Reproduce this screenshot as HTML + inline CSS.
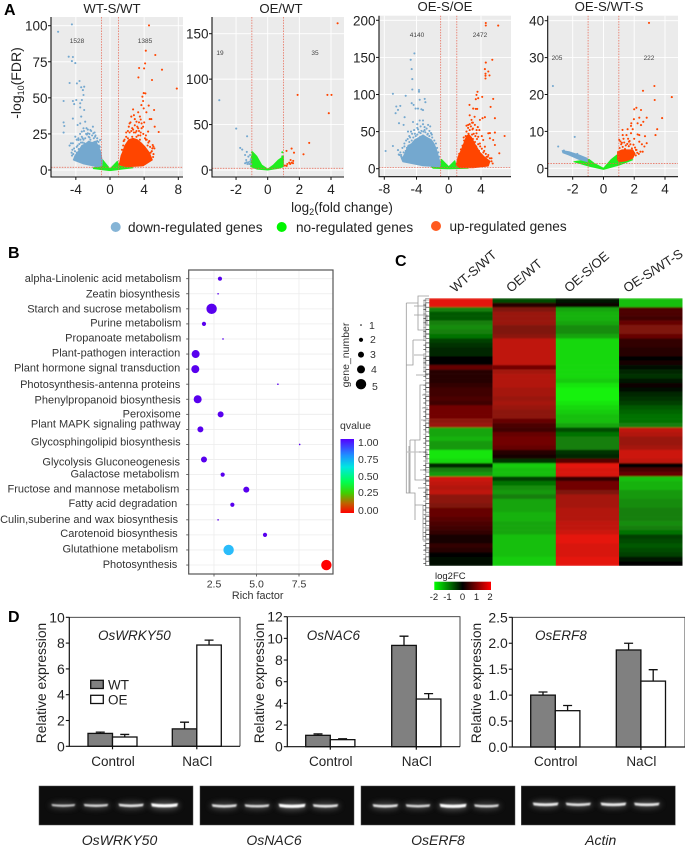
<!DOCTYPE html>
<html lang="en">
<head>
<meta charset="utf-8">
<title>Transcriptome and expression analysis figure</title>
<style>
html,body{margin:0;padding:0;background:#fff;}
#figure{display:block;font-family:"Liberation Sans",sans-serif;}
</style>
</head>
<body>
<svg id="figure" xmlns="http://www.w3.org/2000/svg" width="685" height="847" viewBox="0 0 685 847">
<defs>
<filter id="band-blur" x="-30%" y="-200%" width="160%" height="500%"><feGaussianBlur stdDeviation="0.9"></feGaussianBlur></filter>
<filter id="glow-blur" x="-30%" y="-300%" width="160%" height="700%"><feGaussianBlur stdDeviation="2.6"></feGaussianBlur></filter>
<filter id="heat-blur" x="0" y="0" width="100%" height="100%"><feGaussianBlur stdDeviation="0 0.9"></feGaussianBlur></filter>
<linearGradient id="qvalue-gradient" x1="0" y1="1" x2="0" y2="0">
<stop offset="0" stop-color="#ff0000"></stop><stop offset=".13" stop-color="#c06000"></stop><stop offset=".27" stop-color="#40d000"></stop><stop offset=".42" stop-color="#00ff50"></stop><stop offset=".62" stop-color="#00e8e0"></stop><stop offset=".78" stop-color="#1e90ff"></stop><stop offset="1" stop-color="#5500ff"></stop>
</linearGradient>
<linearGradient id="log2fc-gradient" x1="0" y1="0" x2="1" y2="0">
<stop offset="0" stop-color="#00ff00"></stop><stop offset=".5" stop-color="#000000"></stop><stop offset="1" stop-color="#ff0000"></stop>
</linearGradient>
</defs>
<rect width="685" height="847" fill="#fff"></rect>

<g font-weight="bold" font-size="16" fill="#000">
<text x="4" y="15">A</text>
<text x="8" y="258">B</text>
<text x="395" y="266">C</text>
<text x="8" y="622">D</text>
</g>

<g font-size="13.2" text-anchor="middle" fill="#222">
<text x="112" y="13">WT-S/WT</text>
<text x="281" y="13">OE/WT</text>
<text x="445" y="11">OE-S/OE</text>
<text x="609" y="11">OE-S/WT-S</text>
</g>
<g id="volcano-layer"></g>
<g font-size="6.5" text-anchor="middle" fill="#444">
<text x="77" y="43">1528</text>
<text x="145" y="43">1385</text>
<text x="220" y="55">19</text>
<text x="315" y="55">35</text>
<text x="417" y="37">4140</text>
<text x="480" y="37">2472</text>
<text x="557" y="60">205</text>
<text x="649" y="60">222</text>
</g>
<text transform="translate(21,83) rotate(-90)" font-size="14" text-anchor="middle" fill="#222">-log<tspan font-size="9" dy="3">10</tspan><tspan dy="-3">(FDR)</tspan></text>
<text x="342" y="212" font-size="13.5" text-anchor="middle" fill="#222">log<tspan font-size="9" dy="3">2</tspan><tspan dy="-3">(fold change)</tspan></text>
<g font-size="13.6" fill="#222">
<circle cx="115.7" cy="227" r="5" fill="#85b4d6"></circle>
<text x="128" y="232">down-regulated genes</text>
<circle cx="281.7" cy="227" r="5" fill="#00f500"></circle>
<text x="296" y="232">no-regulated genes</text>
<circle cx="436" cy="226" r="5" fill="#ff5a1f"></circle>
<text x="449.5" y="231">up-regulated genes</text>
</g>

<g id="bubble-layer"></g>
<g font-size="11" text-anchor="end" fill="#333">
<text x="181.3" y="282">alpha-Linolenic acid metabolism</text>
<text x="180" y="297.3">Zeatin biosynthesis</text>
<text x="181.3" y="312.3">Starch and sucrose metabolism</text>
<text x="181.3" y="326.7">Purine metabolism</text>
<text x="181.3" y="341.3">Propanoate metabolism</text>
<text x="180.3" y="356.3">Plant-pathogen interaction</text>
<text x="180.3" y="371.7">Plant hormone signal transduction</text>
<text x="180.3" y="388">Photosynthesis-antenna proteins</text>
<text x="180.7" y="403.3">Phenylpropanoid biosynthesis</text>
<text x="180.7" y="417.7">Peroxisome</text>
<text x="180.7" y="427.7">Plant MAPK signaling pathway</text>
<text x="180.7" y="445.7">Glycosphingolipid biosynthesis</text>
<text x="180" y="465.3">Glycolysis Gluconeogenesis</text>
<text x="179.3" y="477.7">Galactose metabolism</text>
<text x="179.3" y="492.3">Fructose and mannose metabolism</text>
<text x="177.3" y="507">Fatty acid degradation</text>
<text x="178" y="523">Culin,suberine and wax biosynthesis</text>
<text x="177.7" y="537">Carotenoid biosynthesis</text>
<text x="178" y="552.3">Glutathione metabolism</text>
<text x="177.3" y="568">Photosynthesis</text>
</g>
<text x="257.7" y="599" font-size="10.8" text-anchor="middle" fill="#333">Rich factor</text>
<g fill="#333" font-size="10.5">
<text transform="translate(349,355) rotate(-90)" text-anchor="middle">gene_number</text>
<text x="369" y="329">1</text>
<text x="370" y="343">2</text>
<text x="370" y="358">3</text>
<text x="371" y="373">4</text>
<text x="372" y="390">5</text>
</g>
<g fill="#333" font-size="10.5">
<text x="340" y="429">qvalue</text>
<rect x="340.5" y="439" width="13.5" height="74" fill="url(#qvalue-gradient)"></rect>
<text x="358" y="446">1.00</text>
<text x="358" y="463">0.75</text>
<text x="358" y="480">0.50</text>
<text x="358" y="496">0.25</text>
<text x="358" y="514">0.00</text>
</g>

<g font-size="13" fill="#222">
<text transform="translate(455,293) rotate(-41)">WT-S/WT</text>
<text transform="translate(511,293) rotate(-41)">OE/WT</text>
<text transform="translate(569,293) rotate(-41)">OE-S/OE</text>
<text transform="translate(627,293) rotate(-33)">OE-S/WT-S</text>
</g>
<g fill="none" stroke="#9a9a9a" stroke-width=".8">
<path d="M406.3 303V365H413V340M406.3 365V493H410V440M409 446V493H415V520M413 340H424V300H429M413 340V365M410 440H420V385H425M420 440H415V480H429M415 505H423V540H429M406.3 303H418V296H429M418 303V330H425"></path>
<path stroke="#c4c4c4" stroke-width="1.2" d="M407 452H421"></path>
<path d="M414 306H426M414 315H427V325M414 355H424V372M416 375H428M422 395H429M422 408H428M421 420H429V434M419 452H427V462M420 470H429M418 488H427V500M424 515H429M425 528H429M424 550H429V561"></path>
</g>
<g id="heatmap-layer"></g>
<g fill="#222" font-size="9.5">
<text x="435" y="579">log2FC</text>
<rect x="434.3" y="581.7" width="56.7" height="8.3" fill="url(#log2fc-gradient)"></rect>
<text x="434" y="600" text-anchor="middle">-2</text>
<text x="447.5" y="600" text-anchor="middle">-1</text>
<text x="462.5" y="600" text-anchor="middle">0</text>
<text x="476.5" y="600" text-anchor="middle">1</text>
<text x="490" y="600" text-anchor="middle">2</text>
</g>

<g id="bars-layer"></g>
<g font-size="13.5" fill="#222">
<rect x="90.7" y="680.3" width="12.6" height="8.2" fill="#808080" stroke="#111" stroke-width="1.3"></rect>
<text x="108" y="689.5">WT</text>
<rect x="90.7" y="695.3" width="12.6" height="8.2" fill="#fff" stroke="#111" stroke-width="1.3"></rect>
<text x="108" y="704.5">OE</text>
</g>
<g id="gels-layer"></g>
<g font-size="14" font-style="italic" text-anchor="middle" fill="#222">
<text x="119.5" y="845">OsWRKY50</text>
<text x="274" y="845">OsNAC6</text>
<text x="438" y="845">OsERF8</text>
<text x="600.7" y="845">Actin</text>
</g>
</svg>

<script>
// ---------- Volcano data (log2FC, -log10 FDR) ----------
const wtsWtXTicks = [-4, 0, 4, 8];
const wtsWtYTicks = [0, 25, 50, 75, 100];
const wtsWtDown = [[-6.08,95.8],[-4.46,100.9],[-4.84,78.5],[-4.34,78.3],[-4.46,75.5],[-4.07,74.1],[-4.73,60.3],[-3.57,61.7],[-3.88,60],[-3.02,57.7],[-5.43,47.8],[-4.34,47.8],[-3.95,48.5],[-4.19,45.7],[-3.37,57.3],[-3.18,55.4],[-3.1,52],[-3.29,48.5],[-3.49,46.2],[-3.49,43.4],[-3.02,41.6],[-3.37,37],[-4.34,35.6],[-5.43,33],[-5.35,30.5],[-5.43,25.9],[-3.8,31.2],[-3.49,32.3],[-2.91,33.5],[-3.1,28.9],[-2.3,27.7],[-2,30],[-2.6,25.4],[-3.3,26.6],[-4.07,23.1],[-4.57,18.5],[-4.73,16.9],[-4.34,18.5],[-3.7,20.8],[-1.75,23.1],[-1.16,20.8],[-1.94,25.4],[-4.4,14],[-3.8,17],[-3.2,22],[-2.4,22.5],[-2.7,24.5],[-1.5,22]];
const wtsWtDownMid = [[-4.3,11],[-4.1,13],[-3.9,12],[-4.2,15],[-3.6,18],[-3.9,16],[-3.4,19],[-3.7,22],[-3.1,21],[-3.3,23],[-2.9,22],[-2.8,25],[-2.5,23],[-2.3,21],[-2.1,24],[-1.9,22],[-1.7,24],[-1.5,20],[-1.3,17],[-1.2,16],[-1.1,12],[-2.6,28],[-3.05,27],[-2.75,29],[-1.8,26],[-2.2,27],[-3.5,25],[-3.9,21],[-4.5,12],[-4.45,10],[-3.2,19],[-3,18.5],[-3.45,21],[-2.4,25],[-1.6,19.5],[-3.65,14.5],[-4,9.5],[-1.35,19.5]];
const wtsWtUp = [[4.57,100.2],[4.19,82.7],[5.31,79.7],[4.11,73.9],[3.41,70.7],[3.99,70.4],[6.09,69.5],[4.92,62.4],[3.33,64.2],[7.83,56.4],[3.95,53.3],[4.15,53.1],[3.8,50.8],[3.88,47.8],[3.68,45],[4.53,44.6],[2.71,42],[3.95,42.7],[5.16,41.6],[3.3,40],[4.26,40],[4.65,35.3],[4.84,35.3],[5.23,30],[5.7,26.3],[5,17.3],[5.08,16.2],[4.96,15],[2.5,37],[2.9,35.3],[3.5,37],[3.1,33.5],[3.7,32.3],[4.46,26.6],[3.88,30],[3.3,28.9],[2.3,32.3],[4.2,24],[3.6,26],[4.6,20],[4.4,17],[3.1,27],[2.6,29]];
const wtsWtUpMid = [[1.4,14],[1.55,17],[1.7,21],[1.9,23],[2.1,22],[2.3,26],[2.5,27],[2.2,30],[2.7,28],[2.9,31],[2.4,33],[3,26],[3.2,30],[3.4,27],[3.55,24],[3.7,29],[3.9,25],[4.1,22],[4.3,21],[4.5,19],[4.7,16],[4.9,13],[5.1,11],[5.05,9],[4.6,9],[4.2,21],[3.4,33],[2.8,38],[3.6,35],[4,33],[2.1,27],[1.9,26],[3.1,23],[4.75,12],[5.2,15],[2.6,23],[3.3,24],[1.6,20],[2.8,26],[3.5,21]];
const wtsWtDownCloud = [[-4.3,7],[-4.1,10],[-3.7,13],[-3.3,17],[-2.9,18],[-2.5,20],[-2.1,19],[-1.7,20],[-1.4,17],[-1.1,13],[-0.9,6],[-0.95,3],[-1.5,2.3],[-3.1,4.2],[-4.1,6.5]];
const wtsWtUpCloud = [[1.08,3.5],[1.3,10],[1.45,12],[1.75,17],[2.2,21],[2.7,22],[3.2,21],[3.7,18.5],[4.1,16],[4.6,12],[4.95,7],[3.9,3],[2,2.3]];
const wtsWtNoCloud = [[-1.95,1.5],[-1.16,2.8],[-0.85,7],[0,0.7],[0.85,6],[1.08,2.8],[2.7,1.6],[0,-0.4],[-1.95,1]];

const oeWtXTicks = [-2, 0, 2, 4];
const oeWtYTicks = [0, 50, 100, 150];
const oeWtDown = [[-3.06,76.8],[-1.99,45.6],[-1.3,37.1],[-1.74,24.3],[-1.61,22.4],[-1.32,19.9],[-1.11,16.5],[-1.43,16.5],[-1.22,14.7],[-1.36,11],[-1.22,8.5],[-1.43,7.4],[-1.28,6.6],[-1.11,9.2],[-1.07,11.8],[-1.16,6.6],[-1.34,8.5],[-1.05,6.5]];
const oeWtUp = [[4.42,161.4],[1.89,82.7],[3.77,82.7],[4.03,82.7],[3.86,62.5],[2.62,29.8],[2.26,17.3],[1.51,23.5],[1.19,21],[1.66,19],[1.45,11],[1.61,10],[1.51,8],[1.36,8],[1.24,6.6],[1.09,4.8],[1.42,6.6],[1.6,7.5],[1.2,4.5]];
const oeWtNoPoints = [[0.92,19.5],[0.92,15],[-0.99,19.5],[-1,14],[0.97,11]];
const oeWtNoCloud = [[-1.07,11],[-0.96,20],[-0.69,15],[-0.38,5.5],[0,1],[0.36,5.5],[0.67,11],[0.99,15],[0.99,3.7],[0.67,1.8],[0,0],[-0.69,1],[-1.07,3.7]];

const oesOeXTicks = [-8, -4, 0, 4];
const oesOeYTicks = [0, 50, 100, 150, 200];
const oesOeDown = [[-4.27,155.4],[-4.73,146.8],[-4.6,134.2],[-4.52,120.7],[-4.52,106.8],[-3.69,106],[-3.69,103.6],[-6.93,100.9],[-5.35,98.2],[-2.99,94.1],[-3.61,92.8],[-2.9,89.6],[-4.6,88.3],[-4.36,86],[-6.51,83.8],[-6.02,84.7],[-6.3,79.3],[-6.6,74.8],[-4.11,81],[-3.82,81],[-3.4,80],[-3.2,79],[-6.93,30.6],[-7.84,23.9],[-6.18,61.3],[-5.6,59],[-5.48,69.4],[-6.3,25],[-5.9,18.5],[-6.1,18.5],[-5.06,50],[-4.44,63],[-3.61,65],[-3.2,65],[-2.57,59],[-2.3,57],[-4.69,50],[-3.9,55],[-3,52],[-4.2,47],[-3.5,48],[-5.5,30],[-5.3,38],[-2.6,47],[-4.8,42],[-2.2,48]];
const oesOeDownMid = [[-5.7,13],[-5.5,18],[-5.6,22],[-5.2,28],[-5,31],[-5.35,24],[-4.9,36],[-4.6,38],[-4.75,30],[-4.4,42],[-4.1,44],[-4.3,36],[-3.9,46],[-3.7,49],[-3.4,51],[-3.15,50],[-2.9,49],[-2.65,46],[-2.4,44],[-2.05,42],[-1.8,38],[-1.6,34],[-3.8,53],[-3.5,57],[-3,56],[-2.75,54],[-4.3,52],[-4.55,47],[-4.9,44],[-5.1,40],[-5.5,34],[-5.75,28],[-6,22],[-3.2,60],[-3.9,60],[-2.4,51],[-2.1,46],[-1.45,28],[-1.3,22],[-1.2,16],[-6.2,19],[-5.9,16],[-3.55,43],[-4.85,26]];
const oesOeUp = [[4.6,196.4],[4.6,193],[6.14,192.8],[5.4,146.8],[4.6,143],[4.48,134.2],[4.9,131],[4.56,128],[5.06,125.7],[4.56,125.2],[4.56,121.6],[3.57,103.6],[3.44,99.5],[3.65,95],[4.15,96.8],[3.36,93.7],[5.52,94.1],[2.57,86],[5.19,83.3],[3.03,81],[3.36,80.6],[3.53,80.6],[5.73,68],[4.48,69.4],[4.19,68],[3.86,65.8],[2.82,65.8],[2.41,59],[3.24,59],[4.9,47.7],[5.73,48.6],[5.1,48],[6.93,44.1],[5.1,41],[5.52,38.7],[5.73,32],[6.27,20.7],[4.9,18.5],[4.69,16],[4.48,29.7],[3.86,34],[4.27,38.7],[3.65,43],[3.44,47.7],[3,54],[2.9,62],[3.6,56],[3.8,52],[4.1,44],[4.4,24],[5.3,14],[3.2,70],[2.6,72]];
const oesOeUpMid = [[1.3,20],[1.5,26],[1.7,31],[1.9,38],[2.1,44],[2.2,50],[2.4,55],[2.6,52],[2.75,57],[2.95,53],[3.1,47],[3.3,44],[3.5,40],[3.25,36],[3.65,33],[3.9,30],[4.1,27],[4.3,22],[4.6,20],[4.85,16],[5.1,14],[5.3,10],[5.45,7],[3,40],[2.9,46],[2.6,60],[2.2,58],[2.8,36],[3.4,30],[3.75,24],[4.05,19],[4.5,14],[3,62],[3.45,52],[2.45,47],[1.85,42]];
const oesOeDownCloud = [[-5.89,14],[-5.6,17],[-5.27,25],[-5.06,31],[-4.6,34],[-4.23,39],[-3.7,42],[-3.2,45.5],[-2.7,42],[-2.16,39],[-1.8,33],[-1.54,26],[-1.04,7],[-1.12,2.7],[-3.2,4],[-5.7,9.5]];
const oesOeUpCloud = [[0.91,5],[1.16,16],[1.5,24],[1.87,34],[2.2,44],[2.5,46],[2.82,42],[3.3,32],[3.86,22],[4.4,16],[5.1,10],[4.9,3.6],[3.03,1.4],[1.37,1.4]];
const oesOeNoCloud = [[-2.16,2.7],[-1.12,5],[-0.91,12.6],[0,2.7],[0.75,10.8],[0.95,2.7],[2.4,0.5],[0,0],[-1.95,0.5]];

const oesWtsXTicks = [-2, 0, 2, 4];
const oesWtsYTicks = [0, 10, 20, 30, 40];
const oesWtsDown = [[-3.29,22.3],[-1.87,8.5],[-2.94,5.9],[-2.57,4.8],[-2.24,4.3],[-1.8,3.6],[-1.48,3.2],[-1.55,2.9],[-1.27,2.4],[-1.7,3.9]];
const oesWtsUp = [[2.96,39.4],[3.31,22.3],[2.57,21],[4.44,19.3],[3.33,18.5],[2.14,16.4],[2,16],[2.44,15.8],[3.81,13.6],[2.81,13.7],[2.33,13.7],[1.98,13.3],[2.59,12.6],[1.81,12.2],[2.22,12.2],[2.44,11.7],[1.79,11.5],[3.49,10.6],[1.24,10.4],[1.57,10.6],[1.9,10.6],[3.38,9],[1.5,9],[1.79,9.5],[2.22,9.2],[2.33,9],[2.7,8.7],[2.81,6.8],[2.66,5.9],[2.55,4.5],[2.11,5],[2.33,7.2],[1.66,7.2],[1.02,7.7],[1.3,8],[1.2,6.9],[2,8],[2.5,6.5]];
const oesWtsUpMid = [[1.05,5.5],[1.15,6.5],[1.25,5.8],[1.35,7],[1.45,6.2],[1.55,6.6],[1.65,6],[1.75,6.5],[1.85,5.4],[1.95,6.4],[2.05,5.6],[2.15,5],[2.2,4.2],[2.3,3.9],[2.1,3.5],[2.4,4.5],[1.7,7.4],[1.4,5.2],[1.1,7.3],[1.6,8],[1.25,9]];
const oesWtsDownCloud = [[-2.68,4.8],[-2.24,4.5],[-1.59,3.6],[-1.05,2.7],[-1.05,1.8],[-1.59,2.4],[-2.24,3.6],[-2.64,4.2]];
const oesWtsUpCloud = [[0.92,4.5],[1.2,5],[1.9,5],[2.05,4],[1.9,2.7],[1.46,2],[1.02,1.8],[0.92,2.3]];
const oesWtsNoCloud = [[-1.92,1.8],[-0.94,2.4],[-0.61,1.35],[0,0],[0.48,2.3],[0.87,3.6],[1.24,2.7],[1.9,2.3],[1.02,0.9],[0,-0.3],[-0.94,0.6]];

// ---------- Bubble chart data ----------
const bubbleXTicks = [2.5, 5.0, 7.5];
const bubbleRichFactor = [2.85,2.74,2.36,1.91,3.03,1.42,1.40,6.26,1.54,2.89,1.70,7.54,1.91,3.01,4.40,3.58,2.74,5.50,3.36,9.11];
const bubbleGeneNumber = [2,1,5,2,1,4,4,1,4,3,3,1,3,2,3,2,1,2,5,5];
const bubbleQvalue = [1,1,1,1,1,1,1,1,1,1,1,1,1,1,1,1,1,1,0.73,0.0];
const sizeLegendValues = [1,2,3,4,5];

// ---------- Heatmap data: log2FC per gene row ----------
const heatWtsWt = [1.8,1.8,-1,-.7,-.7,-1,-1.1,-1,-.9,-.5,-.4,-.3,-.3,0,.05,.8,.3,.3,.3,.4,.5,.5,.6,.5,.9,.9,.9,1.1,1.2,-1.3,-1.3,-1.4,-1.2,-1.2,-1.8,-1.8,-1.7,-.3,-1,-1.2,1.6,1.5,1.4,1.5,1.1,1.1,1,.8,.8,.7,.6,.5,.4,.2,.2,.4,.3,.05,-.1,-.1];
const heatOeWt = [-.6,.3,1,1.2,1.2,1.2,1,1,1.1,1.5,1.5,1.5,1.5,1.5,1.5,.9,1.3,1.4,1.4,1.4,1.3,1.3,1.2,1.3,1.2,1.1,1.1,.8,.6,.5,.8,.9,.9,.8,.3,.2,-.4,-1.6,-1.5,-1.5,-.5,-.9,-1.1,-1.2,-1,-1.3,-1.3,-1.3,-1.4,-1.4,-1.3,-1.3,-1.3,-1.5,-1.5,-1.5,-1.5,-1.5,-1.6,-1.6];
const heatOesOe = [-.2,.1,-1.3,-1.4,-1.4,-1.3,-1.1,-1.1,-1.3,-1.7,-1.7,-1.7,-1.7,-1.7,-1.7,-1.7,-1.7,-1.7,-1.6,-1.8,-1.9,-1.9,-1.9,-1.8,-1.7,-1.6,-1.5,-1.5,-1.3,-.6,-.9,-1,-1,-1,-.4,-.3,.7,1.8,1.7,1.7,.4,.9,.9,1,1.3,1.3,1.3,1.4,1.4,1.4,1.5,1.5,1.6,1.8,1.8,1.7,1.7,1.7,1.8,1.8];
const heatOesWts = [-1.5,-1.5,.6,.6,.5,.8,1,1,.8,.4,.4,.3,.3,.05,.2,-.1,-.3,-.4,-.2,.1,-.1,-.3,-.4,-.5,-.7,-.8,-.9,-.9,-1,1.5,1.4,1.2,1.2,1.3,1.6,1.6,1.5,-.05,.6,.8,-1.5,-1.4,-1.4,-1.2,-1.2,-1.1,-1.1,-1,-1,-1,-1.1,-1,-.9,-.5,-.6,-.7,-.6,-.5,-.2,.02];

// ---------- Bar chart data ----------
const wrkyTicks = [0,2,4,6,8,10];
const wrkyTickLabels = ["0","2","4","6","8","10"];
const wrkyWt = [1.0,1.35];
const wrkyOe = [0.72,7.85];
const wrkyWtErr = [0.1,0.52];
const wrkyOeErr = [0.2,0.38];
const nacTicks = [0,2,4,6,8,10,12];
const nacTickLabels = ["0","2","4","6","8","10","12"];
const nacWt = [1.05,9.35];
const nacOe = [0.65,4.4];
const nacWtErr = [0.13,0.85];
const nacOeErr = [0.08,0.5];
const erfTicks = [0,0.5,1,1.5,2,2.5];
const erfTickLabels = ["0.0","0.5","1.0","1.5","2.0","2.5"];
const erfWt = [1.0,1.87];
const erfOe = [0.7,1.27];
const erfWtErr = [0.06,0.13];
const erfOeErr = [0.1,0.22];
const barCategories = ["Control","NaCl"];

// ---------- Gel band intensities ----------
const gelWrky = [0.5,0.6,0.72,1.0];
const gelNac = [0.72,0.65,1.0,0.75];
const gelErf = [0.75,0.62,1.0,0.65];
const gelActin = [0.8,0.72,0.8,0.76];

const NS = 'http://www.w3.org/2000/svg';
function mk(parent, tag, attrs, text) {
  const node = document.createElementNS(NS, tag);
  for (const k in attrs) node.setAttribute(k, attrs[k]);
  if (text !== undefined) node.textContent = text;
  parent.appendChild(node);
  return node;
}
function linear(v0, p0, v1, p1) {
  const k = (p1 - p0) / (v1 - v0);
  return v => p0 + (v - v0) * k;
}

// ---------- Volcano panels ----------
function drawVolcano(cfg) {
  const layer = document.getElementById('volcano-layer');
  const x = linear(cfg.xv[0], cfg.xp[0], cfg.xv[1], cfg.xp[1]);
  const y = linear(cfg.yv[0], cfg.yp[0], cfg.yv[1], cfg.yp[1]);
  const g = mk(layer, 'g', {});
  
  
  const bg = mk(g, 'rect', {x: cfg.left, y: cfg.top, width: cfg.right - cfg.left, height: cfg.bottom - cfg.top, fill: '#ebebeb'});
  
  
  cfg.xTicks.forEach(t => {
    const gl = mk(g, 'line', {x1: x(t), x2: x(t), y1: cfg.top, y2: cfg.bottom, stroke: '#fff', 'stroke-width': .9});
    
    
  });
  cfg.yTicks.forEach(t => {
    const gl = mk(g, 'line', {x1: cfg.left, x2: cfg.right, y1: y(t), y2: y(t), stroke: '#fff', 'stroke-width': .9});
    
    
  });
  function cloud(points, fill, name) {
    const poly = mk(g, 'polygon', {points: points.map(p => x(p[0]).toFixed(1) + ',' + y(p[1]).toFixed(1)).join(' '), fill: fill, stroke: fill, 'stroke-width': 1, 'stroke-linejoin': 'round'});
    
    
  }
  function dots(points, fill, name) {
    points.forEach(p => {
      const c = mk(g, 'circle', {cx: x(p[0]).toFixed(1), cy: y(p[1]).toFixed(1), r: 1.05, fill: fill});
      
      
    });
  }
  cloud(cfg.noCloud, '#1fee1f', 'no-regulated-cloud');
  cloud(cfg.downCloud, '#74a8cf', 'down-regulated-cloud');
  cloud(cfg.upCloud, '#ff4500', 'up-regulated-cloud');
  dots(cfg.noPoints || [], '#1fee1f', 'no-regulated-point');
  dots(cfg.down, '#74a8cf', 'down-regulated-point');
  dots(cfg.up, '#ff4500', 'up-regulated-point');
  [-1, 1].forEach(t => {
    const v = mk(g, 'line', {x1: x(t), x2: x(t), y1: cfg.top, y2: cfg.bottom, stroke: '#e8604c', 'stroke-width': .7, 'stroke-dasharray': '1.5 1.2'});
    
    
  });
  const h = mk(g, 'line', {x1: cfg.left, x2: cfg.right, y1: y(cfg.fdr), y2: y(cfg.fdr), stroke: '#e8604c', 'stroke-width': .7, 'stroke-dasharray': '1.5 1.2'});
  
  
  const ax = mk(g, 'path', {d: `M${cfg.left} ${cfg.top}V${cfg.bottom}H${cfg.right}`, fill: 'none', stroke: '#111', 'stroke-width': 1.1});
  
  
  cfg.xTicks.forEach(t => {
    const m = mk(g, 'line', {x1: x(t), x2: x(t), y1: cfg.bottom, y2: cfg.bottom + 3, stroke: '#111', 'stroke-width': 1});
    
    
    const l = mk(g, 'text', {x: x(t), y: cfg.bottom + 17, 'font-size': 13.5, 'text-anchor': 'middle', fill: '#222'}, String(t));
    
    
  });
  cfg.yTicks.forEach(t => {
    const m = mk(g, 'line', {x1: cfg.left - 3, x2: cfg.left, y1: y(t), y2: y(t), stroke: '#111', 'stroke-width': 1});
    
    
    const l = mk(g, 'text', {x: cfg.left - 3.5, y: y(t) + 5, 'font-size': 13.5, 'text-anchor': 'end', fill: '#222'}, String(t));
    
    
  });
}
drawVolcano({id:'wts-wt',left:51,right:183,top:17,bottom:177,xv:[0,8],xp:[110,178.3],yv:[0,100],yp:[170,25.7],fdr:1.9,xTicks:wtsWtXTicks,yTicks:wtsWtYTicks,down:wtsWtDown.concat(wtsWtDownMid),up:wtsWtUp.concat(wtsWtUpMid),downCloud:wtsWtDownCloud,upCloud:wtsWtUpCloud,noCloud:wtsWtNoCloud});
drawVolcano({id:'oe-wt',left:212,right:344,top:17,bottom:177,xv:[0,4],xp:[267.7,331],yv:[0,150],yp:[170,33.7],fdr:1.9,xTicks:oeWtXTicks,yTicks:oeWtYTicks,down:oeWtDown,up:oeWtUp,noPoints:oeWtNoPoints,downCloud:[],upCloud:[],noCloud:oeWtNoCloud});
drawVolcano({id:'oes-oe',left:379,right:511,top:15.7,bottom:176.7,xv:[-8,4],xp:[384.3,481],yv:[0,200],yp:[168.7,20.3],fdr:1.9,xTicks:oesOeXTicks,yTicks:oesOeYTicks,down:oesOeDown.concat(oesOeDownMid),up:oesOeUp.concat(oesOeUpMid),downCloud:oesOeDownCloud,upCloud:oesOeUpCloud,noCloud:oesOeNoCloud});
drawVolcano({id:'oes-wts',left:547.7,right:678,top:15.7,bottom:176.7,xv:[-2,4],xp:[572.7,665],yv:[0,40],yp:[168.3,20.7],fdr:1.3,xTicks:oesWtsXTicks,yTicks:oesWtsYTicks,down:oesWtsDown,up:oesWtsUp.concat(oesWtsUpMid),downCloud:oesWtsDownCloud,upCloud:oesWtsUpCloud,noCloud:oesWtsNoCloud});

// ---------- Bubble chart ----------
(function () {
  const layer = document.getElementById('bubble-layer');
  const left = 188.7, right = 333, top = 270, bottom = 574;
  const x = linear(2.5, 214, 7.5, 299);
  const y = i => 278.7 + i * 15.07;
  const radius = n => [0.8, 2.1, 3.0, 4.0, 5.2][n - 1];
  const stops = [[0,[255,0,0]],[.13,[192,96,0]],[.27,[64,208,0]],[.42,[0,255,80]],[.62,[0,232,224]],[.75,[50,180,255]],[.85,[40,100,255]],[1,[88,0,238]]];
  function qColor(q) {
    for (let i = 1; i < stops.length; i++) {
      if (q <= stops[i][0]) {
        const a = stops[i-1], b = stops[i], t = (q - a[0]) / (b[0] - a[0]);
        return 'rgb(' + a[1].map((c, j) => Math.round(c + (b[1][j] - c) * t)).join(',') + ')';
      }
    }
    return 'rgb(88,0,238)';
  }
  const bg = mk(layer, 'rect', {x: left, y: top, width: right - left, height: bottom - top, fill: '#fff'});
  
  
  bubbleXTicks.forEach(t => {
    const gl = mk(layer, 'line', {x1: x(t), x2: x(t), y1: top, y2: bottom, stroke: '#ececec', 'stroke-width': .8});
    
    
    const m = mk(layer, 'line', {x1: x(t), x2: x(t), y1: bottom, y2: bottom + 2.5, stroke: '#444', 'stroke-width': .8});
    
    
    const l = mk(layer, 'text', {x: x(t), y: 587.7, 'font-size': 10.5, 'text-anchor': 'middle', fill: '#333'}, t.toFixed(1));
    
    
  });
  bubbleRichFactor.forEach((v, i) => {
    const gl = mk(layer, 'line', {x1: left, x2: right, y1: y(i), y2: y(i), stroke: '#ececec', 'stroke-width': .8});
    
    
    const m = mk(layer, 'line', {x1: left - 2.5, x2: left, y1: y(i), y2: y(i), stroke: '#444', 'stroke-width': .8});
    
    
  });
  const frame = mk(layer, 'rect', {x: left, y: top, width: right - left, height: bottom - top, fill: 'none', stroke: '#555', 'stroke-width': 1.2});
  
  
  bubbleRichFactor.forEach((v, i) => {
    const c = mk(layer, 'circle', {cx: x(v), cy: y(i), r: radius(bubbleGeneNumber[i]), fill: qColor(bubbleQvalue[i])});
    
    
  });
  sizeLegendValues.forEach((n, i) => {
    const c = mk(layer, 'circle', {cx: 361, cy: 325 + i * 14.8, r: radius(n), fill: '#000'});
    
    
  });
})();

// ---------- Heatmap ----------
(function () {
  const layer = document.getElementById('heatmap-layer');
  const cells = mk(layer, 'g', {filter: 'url(#heat-blur)'});
  
  
  const columns = [heatWtsWt, heatOeWt, heatOesOe, heatOesWts];
  const left = 429.3, colW = 63.25, top = 298.3, rowH = (565.7 - 298.3) / heatWtsWt.length;
  const color = v => {
    const m = Math.min(1, Math.abs(v) / 2) * 255 | 0;
    return v >= 0 ? `rgb(${m},${m > 120 ? 22 : 0},${m > 120 ? 10 : 0})` : `rgb(${m > 120 ? 18 : 0},${m},${m > 120 ? 14 : 0})`;
  };
  columns.forEach((col, c) => {
    col.forEach((v, r) => {
      const cell = mk(cells, 'rect', {x: left + c * colW, y: (top + r * rowH).toFixed(2), width: colW + .2, height: (rowH + .3).toFixed(2), fill: color(v)});
      
      
    });
  });
  heatWtsWt.forEach((v, r) => {
    const leaf = mk(layer, 'path', {d: `M${left} ${(top + r * rowH).toFixed(1)}h-3.5v${rowH.toFixed(1)}h3.5M${left - 3.5} ${(top + (r + .5) * rowH).toFixed(1)}h-2.5`, fill: 'none', stroke: r % 3 ? '#444' : '#888', 'stroke-width': .7});
    
    
  });
})();

// ---------- Bar charts ----------
function drawBars(cfg) {
  const layer = document.getElementById('bars-layer');
  const y = linear(0, cfg.bottom, cfg.max, cfg.top);
  const g = mk(layer, 'g', {});
  
  
  const box = mk(g, 'path', {d: `M${cfg.left} ${cfg.top}H${cfg.right}V${cfg.bottom}`, fill: 'none', stroke: '#333', 'stroke-width': .9});
  
  
  function bar(x0, w, v, err, fill, name) {
    const top = y(v), errTop = y(v + err), cx = x0 + w / 2;
    const e = mk(g, 'path', {d: `M${cx} ${top}V${errTop}M${cx - 4.5} ${errTop}H${cx + 4.5}`, fill: 'none', stroke: '#111', 'stroke-width': 1.3});
    
    
    const r = mk(g, 'rect', {x: x0, y: top, width: w, height: cfg.bottom - top, fill: fill, stroke: '#111', 'stroke-width': 1.3});
    
    
  }
  cfg.wt.forEach((v, i) => {
    const x0 = cfg.groups[i], w = cfg.barW;
    bar(x0, w, v, cfg.wtErr[i], '#808080', 'bar-wt-' + barCategories[i].toLowerCase());
    bar(x0 + w, w, cfg.oe[i], cfg.oeErr[i], '#fff', 'bar-oe-' + barCategories[i].toLowerCase());
    const tick = mk(g, 'line', {x1: x0 + w, x2: x0 + w, y1: cfg.bottom, y2: cfg.bottom + 3, stroke: '#111', 'stroke-width': 1.2});
    
    
    const label = mk(g, 'text', {x: x0 + w + .5, y: 766, 'font-size': 13.5, 'text-anchor': 'middle', fill: '#222'}, barCategories[i]);
    
    
  });
  const axis = mk(g, 'path', {d: `M${cfg.left} ${cfg.top}V${cfg.bottom}H${cfg.right}`, fill: 'none', stroke: '#111', 'stroke-width': 1.2});
  
  
  cfg.ticks.forEach((t, i) => {
    const m = mk(g, 'line', {x1: cfg.left - 3.5, x2: cfg.left, y1: y(t), y2: y(t), stroke: '#111', 'stroke-width': 1.1});
    
    
    const l = mk(g, 'text', {x: cfg.left - 4.5, y: y(t) + 5, 'font-size': 14, 'text-anchor': 'end', fill: '#222'}, cfg.tickLabels[i]);
    
    
  });
  const yt = mk(g, 'text', {transform: `translate(${cfg.titleX},683) rotate(-90)`, 'font-size': 13.8, 'text-anchor': 'middle', fill: '#222'}, 'Relative expression');
  
  
  const gene = mk(g, 'text', {x: cfg.geneX, y: 640, 'font-size': 13.5, 'font-style': 'italic', fill: '#222'}, cfg.gene);
  
  
}
drawBars({id:'oswrky50',gene:'OsWRKY50',geneX:98,left:69.3,right:240,top:617.3,bottom:746.3,max:10,ticks:wrkyTicks,tickLabels:wrkyTickLabels,wt:wrkyWt,oe:wrkyOe,wtErr:wrkyWtErr,oeErr:wrkyOeErr,groups:[88,172.3],barW:24.5,titleX:46});
drawBars({id:'osnac6',gene:'OsNAC6',geneX:306.7,left:287.3,right:460,top:616.7,bottom:746.7,max:12,ticks:nacTicks,tickLabels:nacTickLabels,wt:nacWt,oe:nacOe,wtErr:nacWtErr,oeErr:nacOeErr,groups:[305.7,391.7],barW:24.6,titleX:264});
drawBars({id:'oserf8',gene:'OsERF8',geneX:535,left:512.3,right:685,top:617.3,bottom:747,max:2.5,ticks:erfTicks,tickLabels:erfTickLabels,wt:erfWt,oe:erfOe,wtErr:erfWtErr,oeErr:erfOeErr,groups:[530.7,616.3],barW:24.6,titleX:481});

// ---------- Gels ----------
function drawGel(name, left, intensities, bandY) {
  const layer = document.getElementById('gels-layer');
  const g = mk(layer, 'g', {});
  
  
  const w = 154, top = 786, h = 39;
  const bg = mk(g, 'rect', {x: left, y: top, width: w, height: h, fill: '#0d0d0d', stroke: '#555', 'stroke-width': .5});
  
  
  const fractions = [0.158, 0.37, 0.598, 0.815];
  intensities.forEach((v, i) => {
    const cx = left + w * fractions[i], bw = 21 + 6 * v, bh = 1.2 + 2 * v;
    const glow = mk(g, 'ellipse', {cx: cx, cy: bandY, rx: bw / 2 + 2, ry: bh + 1.5, fill: '#666', opacity: .3 + .4 * v, filter: 'url(#glow-blur)'});
    
    
    const band = mk(g, 'path', {d: `M${cx - bw/2} ${bandY - bh*.7}Q${cx} ${bandY - bh*.1} ${cx + bw/2} ${bandY - bh*.7}L${cx + bw/2 - 1} ${bandY + bh*.3}Q${cx} ${bandY + bh*.9} ${cx - bw/2 + 1} ${bandY + bh*.3}Z`, fill: '#fff', opacity: .5 + .5 * v, filter: 'url(#band-blur)'});
    
    
  });
}
drawGel('oswrky50', 39, gelWrky, 805.5);
drawGel('osnac6', 200, gelNac, 806);
drawGel('oserf8', 361, gelErf, 806);
drawGel('actin', 521.3, gelActin, 804.5);
</script>
</body>
</html>
